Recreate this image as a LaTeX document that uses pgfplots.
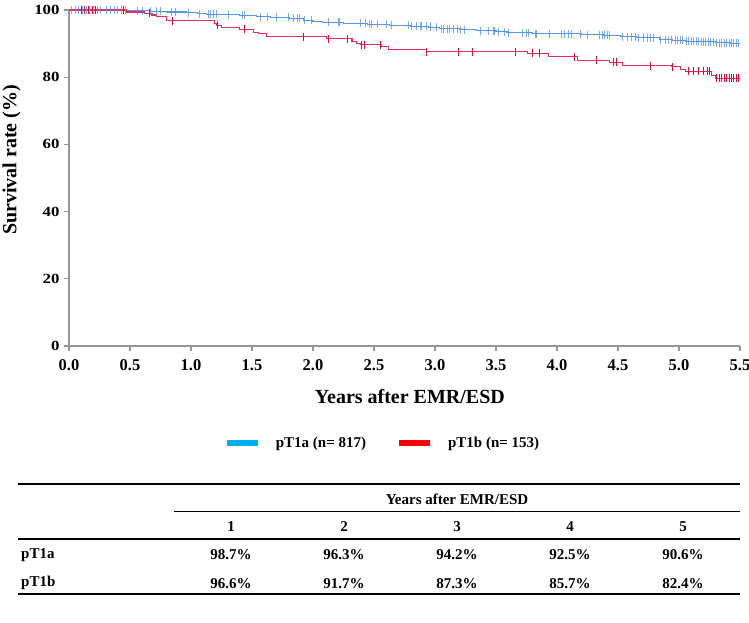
\documentclass[border=0pt]{standalone}
\usepackage{fontspec}
\setmainfont{Liberation Serif}
\usepackage{graphicx}
\usepackage{pgfplots}
\pgfplotsset{compat=1.18}
\definecolor{bline}{RGB}{85,150,232}
\definecolor{rline}{RGB}{228,45,90}
\definecolor{rmark}{RGB}{215,10,60}
\definecolor{legcyan}{RGB}{0,176,240}
\definecolor{legred}{RGB}{255,0,0}
\definecolor{axgray}{RGB}{150,150,150}
\begin{document}
\begin{tikzpicture}[x=1pt,y=1pt]
\path[use as bounding box] (0,0) rectangle (749,623);
\begin{axis}[
  at={(69pt,277pt)}, anchor=south west,
  scale only axis, width=671pt, height=336pt,
  xmin=0, xmax=5.5, ymin=0, ymax=100,
  clip=false,
  axis lines*=left,
  axis line style={axgray, line width=1.2pt},
  tick style={axgray, line width=1.2pt},
  major tick length=5pt,
  tick align=outside,
  xtick={0,0.5,1,1.5,2,2.5,3,3.5,4,4.5,5,5.5},
  xticklabels={0.0,0.5,1.0,1.5,2.0,2.5,3.0,3.5,4.0,4.5,5.0,5.5},
  ytick={0,20,40,60,80,100},
  yticklabels={\scalebox{1.2}[1]{0},\scalebox{1.2}[1]{20},\scalebox{1.2}[1]{40},\scalebox{1.2}[1]{60},\scalebox{1.2}[1]{80},\scalebox{1.2}[1]{100}},
  xticklabel style={font=\fontsize{16.5}{19}\selectfont\bfseries, yshift=-5pt},
  yticklabel style={font=\fontsize{14}{17}\selectfont\bfseries, xshift=-1pt},
  xlabel={Years after EMR/ESD},
  ylabel={Survival rate (\%)},
  xlabel style={font=\fontsize{20}{24}\selectfont\bfseries, at={(axis description cs:0.508,-0.151)}, anchor=center},
  ylabel style={font=\fontsize{20}{24}\selectfont\bfseries, at={(axis description cs:-0.0857,0.554)}, anchor=center},
  legend style={at={(axis description cs:0.2305,-0.2896)}, anchor=west, draw=none, fill=none,
    inner sep=0pt, nodes={inner sep=0pt},
    font=\fontsize{15}{18}\selectfont\bfseries,
    /tikz/every even column/.append style={column sep=30pt}},
  legend columns=2,
  legend image code/.code={\draw[#1] (0pt,0pt) -- (31pt,0pt); \path (46pt,0pt);},
]
\addlegendimage{legcyan, line width=6pt}
\addlegendentry{pT1a (n= 817)}
\addlegendimage{legred, line width=6pt}
\addlegendentry{pT1b (n= 153)}

% pT1a survival (step)
\addplot[const plot, bline, line width=1.1pt, forget plot] table {
t S
0.00 100
0.30 99.9
0.55 99.8
0.66 99.6
0.80 99.4
0.96 99.2
1.05 98.9
1.13 98.7
1.30 98.6
1.40 98.4
1.54 98.0
1.65 97.8
1.81 97.5
1.92 97.0
2.00 96.7
2.08 96.3
2.25 96.0
2.45 95.8
2.63 95.5
2.80 95.1
2.95 94.8
3.04 94.4
3.20 94.1
3.34 93.8
3.50 93.5
3.59 93.2
3.80 93.0
4.05 92.9
4.20 92.7
4.38 92.5
4.52 92.1
4.65 91.8
4.84 91.2
4.95 91.0
5.05 90.7
5.17 90.5
5.30 90.3
5.42 90.1
5.50 90.1
};
% pT1a censored
\addplot[only marks, mark=|, mark size=4pt, mark options={line width=0.9pt, draw=bline, draw opacity=0.8}, forget plot] table {
t S
0.02 100
0.05 100
0.08 100
0.11 100
0.14 100
0.17 100
0.20 100
0.23 100
0.26 100
0.31 99.9
0.34 99.9
0.37 99.9
0.40 99.9
0.43 99.9
0.46 99.9
0.56 99.8
0.60 99.8
0.67 99.6
0.72 99.6
0.75 99.6
0.84 99.4
0.87 99.4
0.98 99.2
1.07 98.9
1.14 98.7
1.16 98.7
1.18 98.7
1.21 98.7
1.31 98.6
1.42 98.4
1.44 98.4
1.57 98.0
1.63 98.0
1.70 97.8
1.80 97.8
1.84 97.5
1.87 97.5
1.89 97.5
1.93 97.0
1.99 97.0
2.13 96.3
2.21 96.3
2.22 96.3
2.39 96.0
2.43 96.0
2.46 95.8
2.48 95.8
2.53 95.8
2.60 95.8
2.64 95.5
2.78 95.5
2.81 95.1
2.85 95.1
2.88 95.1
2.89 95.1
2.93 95.1
2.96 94.8
3.01 94.8
3.05 94.4
3.07 94.4
3.10 94.4
3.12 94.4
3.15 94.4
3.18 94.4
3.21 94.1
3.24 94.1
3.37 93.8
3.44 93.8
3.48 93.8
3.49 93.8
3.52 93.5
3.57 93.5
3.60 93.2
3.72 93.2
3.75 93.2
3.77 93.2
3.82 93.0
3.83 93.0
3.94 93.0
4.04 93.0
4.06 92.9
4.09 92.9
4.12 92.9
4.19 92.9
4.25 92.7
4.35 92.7
4.37 92.7
4.39 92.5
4.41 92.5
4.43 92.5
4.54 92.1
4.58 92.1
4.61 92.1
4.64 92.1
4.67 91.8
4.71 91.8
4.74 91.8
4.77 91.8
4.79 91.8
4.85 91.2
4.89 91.2
4.91 91.2
4.94 91.2
4.97 91.0
4.99 91.0
5.01 91.0
5.03 91.0
5.06 90.7
5.08 90.7
5.10 90.7
5.12 90.7
5.14 90.7
5.16 90.7
5.18 90.5
5.20 90.5
5.22 90.5
5.24 90.5
5.26 90.5
5.28 90.5
5.31 90.3
5.33 90.3
5.35 90.3
5.37 90.3
5.39 90.3
5.41 90.3
5.43 90.1
5.45 90.1
5.47 90.1
5.49 90.1
};

% pT1b survival (step)
\addplot[const plot, rline, line width=1.1pt, forget plot] table {
t S
0.00 100
0.47 99.4
0.62 99.0
0.68 98.5
0.72 98.0
0.80 96.8
1.19 96.1
1.21 95.5
1.25 94.9
1.40 94.3
1.51 93.4
1.55 93.0
1.62 92.0
2.11 91.4
2.32 90.6
2.36 90.1
2.39 89.6
2.56 89.1
2.62 88.3
2.93 87.6
3.76 87.1
3.93 86.1
4.17 85.1
4.43 84.4
4.54 83.4
4.94 83.1
5.01 82.4
5.05 81.8
5.27 80.4
5.30 79.7
5.50 79.7
};
% pT1b censored
\addplot[only marks, mark=|, mark size=4pt, mark options={line width=0.9pt, draw=rmark}, forget plot] table {
t S
0.10 100
0.13 100
0.16 100
0.19 100
0.22 100
0.45 100
0.66 99.0
0.85 96.8
1.22 95.5
1.44 94.3
1.92 92.0
2.13 91.4
2.28 91.4
2.40 89.6
2.42 89.6
2.55 89.6
2.93 87.6
3.19 87.6
3.31 87.6
3.66 87.6
3.80 87.1
3.86 87.1
4.14 86.1
4.32 85.1
4.46 84.4
4.49 84.4
4.77 83.4
4.95 83.1
5.08 81.8
5.12 81.8
5.16 81.8
5.20 81.8
5.23 81.8
5.25 81.8
5.31 79.7
5.33 79.7
5.35 79.7
5.37 79.7
5.39 79.7
5.41 79.7
5.43 79.7
5.45 79.7
5.47 79.7
5.49 79.7
};
\end{axis}

% summary table
\begin{scope}[every node/.style={font=\fontsize{15}{18}\selectfont\bfseries, inner sep=0pt}]
\draw[line width=2pt] (18,138.7) -- (740,138.7);
\node at (457,124) {Years after EMR/ESD};
\draw[line width=1pt] (174,111.3) -- (740,111.3);
\node at (231,96.3) {1};
\node at (344,96.3) {2};
\node at (457,96.3) {3};
\node at (570,96.3) {4};
\node at (683,96.3) {5};
\draw[line width=2pt] (18,84) -- (740,84);
\node[anchor=west] at (21,68) {pT1a};
\node at (231,68) {98.7\%};
\node at (344,68) {96.3\%};
\node at (457,68) {94.2\%};
\node at (570,68) {92.5\%};
\node at (683,68) {90.6\%};
\node[anchor=west] at (21,39.7) {pT1b};
\node at (231,39.7) {96.6\%};
\node at (344,39.7) {91.7\%};
\node at (457,39.7) {87.3\%};
\node at (570,39.7) {85.7\%};
\node at (683,39.7) {82.4\%};
\draw[line width=2pt] (18,29) -- (740,29);
\end{scope}
\end{tikzpicture}
\end{document}
